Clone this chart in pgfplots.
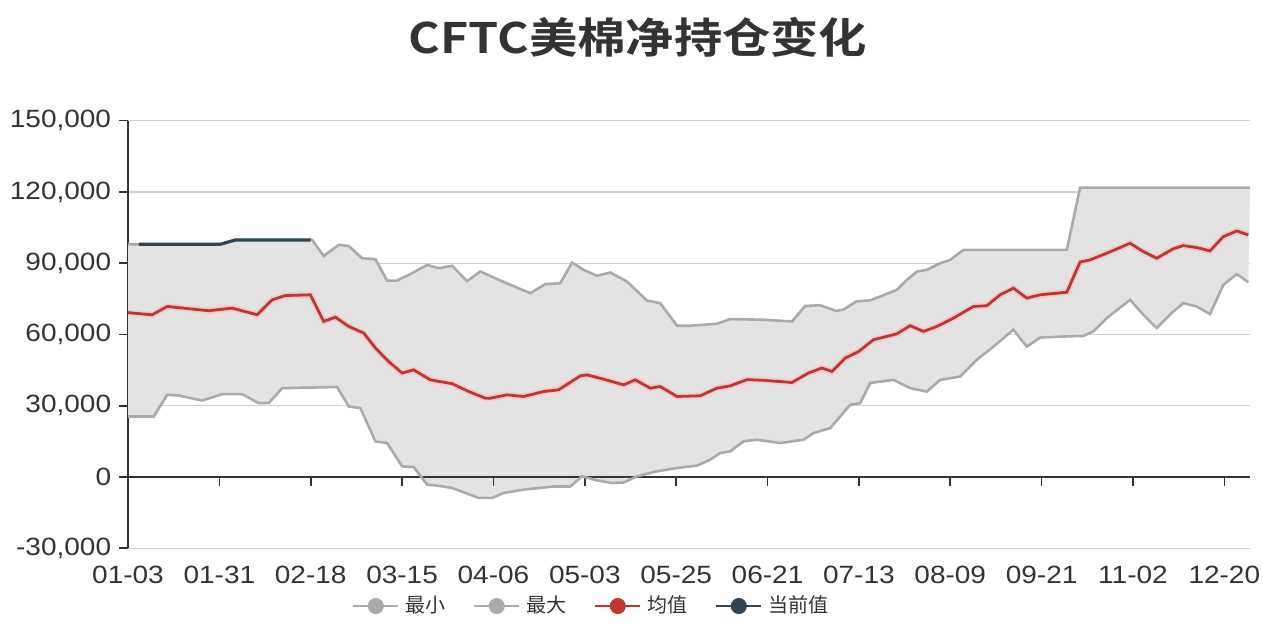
\documentclass[border=0pt]{standalone}
\usepackage{pgfplots}
\pgfplotsset{compat=1.18}
\usepgfplotslibrary{fillbetween}
\usepackage{fontspec}
\setmainfont{Liberation Sans}
\newfontfamily\cjk{Noto Sans CJK SC}[BoldFont={Noto Sans CJK SC Bold}]
\definecolor{ecred}{HTML}{C23531}
\definecolor{ecdark}{HTML}{2F4554}
\definecolor{ecgray}{HTML}{AAAAAA}
\definecolor{fillgray}{HTML}{E3E3E3}
\definecolor{gridgray}{HTML}{D0D0D0}
\definecolor{txt}{HTML}{333333}
\begin{document}
\begin{tikzpicture}
\begin{axis}[
  at={(64pt,41.35pt)}, anchor=south west,
  scale only axis, width=561pt, height=213.8pt,
  xmin=0, xmax=12.281, ymin=-30000, ymax=150000,
  axis y line*=left, axis x line*=bottom,
  x axis line style={draw=none},
  y axis line style={txt, line width=0.8pt},
  xtick={0,...,12},
  xticklabels={01-03,01-31,02-18,03-15,04-06,05-03,05-25,06-21,07-13,08-09,09-21,11-02,12-20},
  xtick style={draw=none},
  ytick={-30000,0,30000,60000,90000,120000,150000},
  ytick style={txt, line width=0.8pt},
  tick align=outside, major tick length=4.5pt,
  ymajorgrids, grid style={gridgray, line width=0.7pt},
  scaled y ticks=false,
  yticklabel style={/pgf/number format/fixed, /pgf/number format/1000 sep={,}, xscale=1.12, text=txt},
  xticklabel style={xscale=1.12, text=txt, yshift=-1pt},
  /pgf/number format/assume math mode=true,
  tick label style={font=\fontsize{12.5}{14}\selectfont},
  legend style={at={(0.4147,-0.135)}, anchor=center, draw=none, fill=none,
    legend columns=4, font=\cjk\fontsize{10}{12}\selectfont, text=txt,
    /tikz/every even column/.append style={column sep=11pt},
    nodes={inner sep=3pt}},
  legend image code/.code={
    \draw[line width=1pt] (0pt,0pt) -- (22.5pt,0pt);
    \fill (11.25pt,0pt) circle (3.8pt);
  },
]
% max (upper envelope)
\addplot[name path=maxp, draw=none, forget plot] coordinates {
(0,98000) (1.012,98000) (1.176,99800) (2.015,99800) (2.142,93100) (2.306,97700)
(2.416,97300) (2.562,92100) (2.708,91700) (2.836,82700) (2.945,82700) (3.109,85800)
(3.274,89300) (3.400,87900) (3.547,88900) (3.711,82500) (3.857,86500) (4.130,81800)
(4.404,77400) (4.568,81200) (4.732,81600) (4.860,90300) (4.987,87200) (5.133,84700)
(5.279,86100) (5.462,82300) (5.680,74300) (5.826,73200) (6.009,63700) (6.154,63700)
(6.446,64500) (6.592,66500) (6.956,66200) (7.267,65500) (7.413,72000) (7.577,72300)
(7.752,69900) (7.832,70500) (7.971,73900) (8.124,74400) (8.234,76000) (8.416,78800)
(8.525,83000) (8.635,86500) (8.744,87200) (8.890,90000) (8.999,91400) (9.144,95600)
(10.276,95600) (10.421,121800) (12.281,121800)};
% min (lower envelope)
\addplot[name path=minp, draw=none, forget plot] coordinates {
(0,25500) (0.282,25500) (0.429,34600) (0.556,34300) (0.812,32200) (1.031,34900)
(1.249,34900) (1.431,31100) (1.540,31100) (1.687,37400) (2.289,37900) (2.416,29700)
(2.544,29000) (2.708,15000) (2.836,14300) (3.000,4500) (3.127,4200) (3.274,-3200)
(3.400,-3700) (3.547,-4600) (3.693,-6700) (3.838,-8800) (3.985,-8800) (4.112,-6700)
(4.330,-5300) (4.659,-4000) (4.841,-4000) (4.969,300) (5.133,-1400) (5.298,-2500)
(5.424,-2300) (5.571,300) (5.790,2400) (6.009,3800) (6.228,4800) (6.373,7300)
(6.482,10100) (6.592,10800) (6.737,15000) (6.884,15700) (7.139,14300) (7.394,15700)
(7.503,18500) (7.686,20600) (7.905,30400) (8.014,31100) (8.124,39600) (8.379,40900)
(8.561,37400) (8.744,36000) (8.890,40900) (9.108,42300) (9.291,49400) (9.473,54900)
(9.691,62000) (9.838,54900) (9.983,58700) (10.276,59200) (10.457,59400) (10.567,61300)
(10.713,66900) (10.968,74600) (11.114,68300) (11.260,62700) (11.442,69700) (11.551,73200)
(11.698,71800) (11.843,68600) (11.989,80900) (12.136,85400) (12.263,82000)};
\addplot[fill=fillgray, draw=none, forget plot] fill between[of=maxp and minp];
\draw[txt, line width=0.8pt] (axis cs:0,0) -- (axis cs:12.281,0);
\pgfplotsinvokeforeach{1,...,12}{\draw[txt, line width=0.8pt] (axis cs:#1,0) -- ([yshift=-4.5pt]axis cs:#1,0);}
% visible envelope lines
\addplot[ecgray, line width=1.3pt, forget plot] coordinates {
(0,25500) (0.282,25500) (0.429,34600) (0.556,34300) (0.812,32200) (1.031,34900)
(1.249,34900) (1.431,31100) (1.540,31100) (1.687,37400) (2.289,37900) (2.416,29700)
(2.544,29000) (2.708,15000) (2.836,14300) (3.000,4500) (3.127,4200) (3.274,-3200)
(3.400,-3700) (3.547,-4600) (3.693,-6700) (3.838,-8800) (3.985,-8800) (4.112,-6700)
(4.330,-5300) (4.659,-4000) (4.841,-4000) (4.969,300) (5.133,-1400) (5.298,-2500)
(5.424,-2300) (5.571,300) (5.790,2400) (6.009,3800) (6.228,4800) (6.373,7300)
(6.482,10100) (6.592,10800) (6.737,15000) (6.884,15700) (7.139,14300) (7.394,15700)
(7.503,18500) (7.686,20600) (7.905,30400) (8.014,31100) (8.124,39600) (8.379,40900)
(8.561,37400) (8.744,36000) (8.890,40900) (9.108,42300) (9.291,49400) (9.473,54900)
(9.691,62000) (9.838,54900) (9.983,58700) (10.276,59200) (10.457,59400) (10.567,61300)
(10.713,66900) (10.968,74600) (11.114,68300) (11.260,62700) (11.442,69700) (11.551,73200)
(11.698,71800) (11.843,68600) (11.989,80900) (12.136,85400) (12.263,82000)};
\addplot[ecgray, line width=1.3pt, forget plot] coordinates {
(0,98000) (1.012,98000) (1.176,99800) (2.015,99800) (2.142,93100) (2.306,97700)
(2.416,97300) (2.562,92100) (2.708,91700) (2.836,82700) (2.945,82700) (3.109,85800)
(3.274,89300) (3.400,87900) (3.547,88900) (3.711,82500) (3.857,86500) (4.130,81800)
(4.404,77400) (4.568,81200) (4.732,81600) (4.860,90300) (4.987,87200) (5.133,84700)
(5.279,86100) (5.462,82300) (5.680,74300) (5.826,73200) (6.009,63700) (6.154,63700)
(6.446,64500) (6.592,66500) (6.956,66200) (7.267,65500) (7.413,72000) (7.577,72300)
(7.752,69900) (7.832,70500) (7.971,73900) (8.124,74400) (8.234,76000) (8.416,78800)
(8.525,83000) (8.635,86500) (8.744,87200) (8.890,90000) (8.999,91400) (9.144,95600)
(10.276,95600) (10.421,121800) (12.281,121800)};
% mean with soft glow
\addplot[ecred!30, line width=3.2pt, opacity=0.6, forget plot] coordinates {
(0,69200) (0.265,68300) (0.429,71800) (0.884,70000) (1.140,71100) (1.414,68300)
(1.578,74600) (1.723,76400) (1.997,76700) (2.142,65500) (2.270,67300) (2.416,63400)
(2.580,60600) (2.708,54300) (2.853,48600) (3.000,43800) (3.127,45100) (3.310,40900)
(3.547,39300) (3.729,36000) (3.911,33200) (3.966,33200) (4.149,34600) (4.330,33900)
(4.549,36000) (4.713,36700) (4.951,42600) (5.024,43000) (5.206,41200) (5.424,38800)
(5.552,40900) (5.717,37400) (5.826,38100) (6.009,33900) (6.264,34200) (6.446,37400)
(6.592,38400) (6.775,41000) (6.956,40700) (7.267,39800) (7.449,43800) (7.595,45900)
(7.705,44400) (7.851,50100) (7.996,52800) (8.160,57800) (8.306,59200) (8.416,60300)
(8.561,63700) (8.707,61300) (8.853,63400) (9.035,66900) (9.254,71800) (9.400,72100)
(9.546,76700) (9.691,79500) (9.838,75300) (9.983,76700) (10.276,77800) (10.421,90500)
(10.530,91400) (10.713,94200) (10.968,98400) (11.114,94900) (11.260,92100) (11.442,96100)
(11.551,97400) (11.698,96600) (11.843,95200) (11.989,101200) (12.136,103600) (12.263,101900)};
\addplot[ecred, line width=1.4pt, forget plot] coordinates {
(0,69200) (0.265,68300) (0.429,71800) (0.884,70000) (1.140,71100) (1.414,68300)
(1.578,74600) (1.723,76400) (1.997,76700) (2.142,65500) (2.270,67300) (2.416,63400)
(2.580,60600) (2.708,54300) (2.853,48600) (3.000,43800) (3.127,45100) (3.310,40900)
(3.547,39300) (3.729,36000) (3.911,33200) (3.966,33200) (4.149,34600) (4.330,33900)
(4.549,36000) (4.713,36700) (4.951,42600) (5.024,43000) (5.206,41200) (5.424,38800)
(5.552,40900) (5.717,37400) (5.826,38100) (6.009,33900) (6.264,34200) (6.446,37400)
(6.592,38400) (6.775,41000) (6.956,40700) (7.267,39800) (7.449,43800) (7.595,45900)
(7.705,44400) (7.851,50100) (7.996,52800) (8.160,57800) (8.306,59200) (8.416,60300)
(8.561,63700) (8.707,61300) (8.853,63400) (9.035,66900) (9.254,71800) (9.400,72100)
(9.546,76700) (9.691,79500) (9.838,75300) (9.983,76700) (10.276,77800) (10.421,90500)
(10.530,91400) (10.713,94200) (10.968,98400) (11.114,94900) (11.260,92100) (11.442,96100)
(11.551,97400) (11.698,96600) (11.843,95200) (11.989,101200) (12.136,103600) (12.263,101900)};
% current
\addplot[ecdark, line width=1.6pt, forget plot] coordinates {
(0.12,98000) (1.012,98000) (1.176,99800) (2.000,99800)};
\addlegendimage{color=ecgray}
\addlegendentry{最小}
\addlegendimage{color=ecgray}
\addlegendentry{最大}
\addlegendimage{color=ecred}
\addlegendentry{均值}
\addlegendimage{color=ecdark}
\addlegendentry{当前值}
\end{axis}
\node[text=txt, xscale=1.15] at (319pt,297pt) {\cjk\bfseries\fontsize{21}{24}\selectfont CFTC美棉净持仓变化};
\pgfresetboundingbox
\useasboundingbox (0,0) rectangle (631.5pt,315.5pt);
\end{tikzpicture}
\end{document}
